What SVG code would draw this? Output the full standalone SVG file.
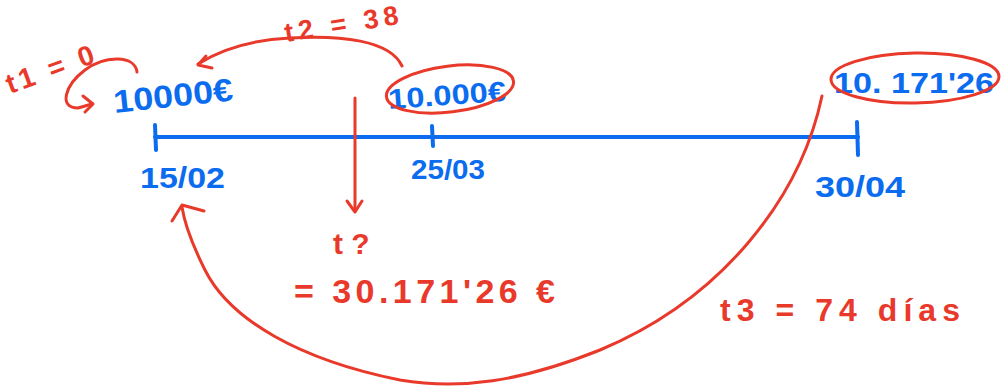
<svg xmlns="http://www.w3.org/2000/svg" width="1001" height="388" viewBox="0 0 1001 388">
<style>
.b{fill:#0b6cf0;font-family:"Liberation Sans",Arial,sans-serif;font-weight:bold}
.r{fill:#e8392b;font-family:"Liberation Sans",Arial,sans-serif;font-weight:bold}
.rl{fill:none;stroke:#e8392b;stroke-width:3;stroke-linecap:round;stroke-linejoin:round}
.bl{fill:none;stroke:#0b6cf0;stroke-width:4;stroke-linecap:round}
</style>
<rect width="1001" height="388" fill="#fff"/>
<g id="timeline">
<line class="bl" x1="155" y1="137" x2="858" y2="137"/>
<line class="bl" x1="155" y1="125" x2="156" y2="150"/>
<line class="bl" x1="432" y1="126" x2="433" y2="146"/>
<line class="bl" x1="857" y1="122" x2="858" y2="155"/>
</g>
<g id="date1"><text class="b" x="140" y="188" font-size="30" textLength="85" lengthAdjust="spacingAndGlyphs">15/02</text></g>
<g id="date2"><text class="b" x="411" y="179" font-size="28" textLength="74" lengthAdjust="spacingAndGlyphs">25/03</text></g>
<g id="date3"><text class="b" x="815" y="197" font-size="30" textLength="90" lengthAdjust="spacingAndGlyphs">30/04</text></g>
<g id="amount1"><text class="b" x="113" y="107" font-size="32" textLength="120" lengthAdjust="spacingAndGlyphs" transform="rotate(-6 170 95)">10000€</text></g>
<g id="amount2">
<text class="b" x="388" y="105" font-size="28" textLength="118" lengthAdjust="spacingAndGlyphs" transform="rotate(-4 445 95)">10.000€</text>
<ellipse class="rl" cx="450" cy="89" rx="64" ry="23" transform="rotate(-7 450 89)"/>
</g>
<g id="amount3">
<text class="b" x="834" y="93" font-size="29" textLength="160" lengthAdjust="spacingAndGlyphs">10. 171'26</text>
<ellipse class="rl" cx="915" cy="78" rx="84" ry="25" transform="rotate(-1 915 78)"/>
</g>
<g id="label-t1"><text class="r" x="10" y="94" font-size="28" textLength="92" lengthAdjust="spacing" transform="rotate(-20 10 94)">t1 = 0</text></g>
<g id="label-t2"><text class="r" x="286" y="42" font-size="27" textLength="115" lengthAdjust="spacing" transform="rotate(-9 286 42)">t2 = 38</text></g>
<g id="label-tq">
<text class="r" x="333" y="254" font-size="30">t ?</text>
<text class="r" x="294" y="303" font-size="34" textLength="261" lengthAdjust="spacing">= 30.171'26 €</text>
</g>
<g id="label-t3"><text class="r" x="720" y="321" font-size="32" textLength="240" lengthAdjust="spacing">t3 = 74 días</text></g>
<g id="connectors">
<path class="rl" d="M137 72 C135 55 105 55 85 70 C65 85 58 108 78 108 L92 104"/>
<path class="rl" d="M83 96 L93 104 L85 112"/>
<path class="rl" d="M402 66 C390 40 340 35 290 38 C250 40 220 50 198 64"/>
<path class="rl" d="M206 56 L198 65 L212 68"/>
<line class="rl" x1="355" y1="98" x2="355" y2="211"/>
<path class="rl" d="M347 201 L355 212 L362 201"/>
<path class="rl" d="M822 96 C800 200 720 300 600 350 C520 382 460 390 400 380 C300 360 230 320 205 270 C190 240 184 220 182 207"/>
<path class="rl" d="M172 221 L182 205 L204 211"/>
</g>
</svg>
